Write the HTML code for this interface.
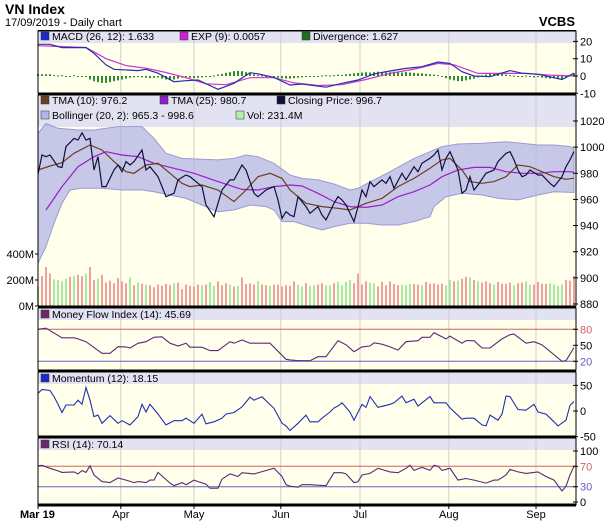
<!DOCTYPE html>
<html><head><meta charset="utf-8"><style>
html,body{margin:0;padding:0;background:#fff;}
svg{display:block;font-family:"Liberation Sans",sans-serif;}
</style></head><body>
<svg id="chart" width="609" height="528" viewBox="0 0 609 528" xmlns="http://www.w3.org/2000/svg">
<text x="5" y="14" font-size="14" font-weight="bold" fill="#000">VN Index</text>
<text x="5" y="26" font-size="11" fill="#000">17/09/2019 - Daily chart</text>
<text x="575" y="26" font-size="13" font-weight="bold" text-anchor="end" fill="#000">VCBS</text>
<g id="layer"></g>
</svg>
<script>
// ---- data ----
const monthLabels=["Mar 19","Apr","May","Jun","Jul","Aug","Sep"];
const monthDays=[0,20.7,39,60.7,80.5,102.7,124.5];
const closeDays=[0,1,2,3,5,6,7,9,10,11,12,13,14,15,16,17,19,20,21,22,23,24,26,27,28,30,31,32,34,35,37,38,40,41,42,44,45,46,48,49,51,52,54,55,57,59,60,61,62,63,64,65,67,68,70,71,72,73,74,75,76,77,79,80,81,82,83,84,86,87,88,89,91,92,94,95,96,98,99,100,101,102,103,105,106,107,108,109,110,112,113,114,115,117,118,119,120,121,122,123,125,126,128,129,131,132,133,134];
const closeVals=[979.4,994,992.7,994,985,984.5,1000.4,1006.7,1005.5,1011,1005.5,1006.7,982.5,992.7,969.8,969.8,982.5,986.3,981.2,988.9,986.3,988.9,997.8,982.5,985,977.4,969.8,962.1,964.7,974.9,978.7,977.4,972.3,969.8,955.7,946.8,957,967.2,974.9,974.9,986.3,982.5,964.7,962.1,967.2,969.8,959.6,945.5,950.6,948.1,946.8,962.1,954.5,949.4,954.5,948.1,944.3,950.6,957,962.1,959.6,955.7,943,954.5,967.2,962.1,973.6,969.8,974.9,972.3,977.4,968.5,980,974.9,985,981.2,987.6,991.5,994,997.8,982.5,991.5,996.5,982.5,964.7,967.2,977.4,967.2,971,980,981.2,982.5,988.9,995.3,996.5,990.2,982.5,977.4,978.7,982.5,978.7,978.7,972.3,969.8,977.4,985,990.2,996.7];
const tma10Days=[0,3,6,9,13,16,19,22,24,27,30,33,36,38,41,45,49,52,55,58,61,63,67,71,75,78,82,86,90,94,98,101,103,106,108,111,114,117,120,123,126,129,132,134];
const tma10Vals=[982.5,985.6,988.1,995.3,1001.6,997.8,988.9,981.2,980,986.3,987.6,980,972.3,969.8,971,967.2,958.3,967.2,977.4,980,976.1,967.2,957,954.5,953.2,951.9,957,960.8,969.8,976.1,983.8,990.2,991.4,982.5,973.6,972.3,973.6,977.4,986.3,985,981.2,977.4,975.4,976.2];
const tma25Days=[2,6,10,14,17,21,25,29,34,39,45,51,55,59,63,66,70,74,78,82,86,90,94,98,101,105,109,113,117,121,125,129,133,134];
const tma25Vals=[951.9,969.8,985,992.7,996.5,994,992.7,987.6,983.8,980,973.6,967.7,967.2,969.8,971,970.3,964.7,958.3,954.5,953.9,955.7,962.1,965.9,971,977.4,982.5,984.5,984.5,981.2,980,980,981.2,981.2,980.7];
const upperDays=[0,2,5,10,14,17,20,26,29,32,36,41,45,49,52,55,59,63,66,70,74,78,80,84,88,94,98,101,105,111,117,121,125,129,133,134];
const upperVals=[1010.6,1018.2,1014.4,1013.1,1013.1,1014.4,1015.7,1015.7,1006.7,995.3,991.4,990.7,990.2,991.4,994,992.7,987.6,978.7,976.1,974.9,971.8,967.2,968.5,974.9,981.2,991.4,996.5,1000.4,1002.4,1002.9,1004.2,1002.9,1001.6,1001.6,1000.5,998.6];
const lowerDays=[0,2,4,6,8,11,16,21,26,29,33,37,41,45,49,53,57,59,61,64,68,71,74,78,82,86,90,94,98,99,102,106,111,115,120,125,129,134];
const lowerVals=[911.1,923.9,941.7,957,967.2,968.5,968.5,967.2,967.2,965.9,963.4,960.8,955.7,950.6,951.9,955.7,954.5,951.9,943,943,939.2,936.6,939.2,941.7,941.7,940.4,940.4,943,946.8,954.5,962.1,964.7,963.4,960.8,959.6,963.4,965.9,965.3];
const volumes=[150,230,300,250,205,200,190,210,225,230,240,230,250,300,200,210,240,180,195,175,215,190,175,220,160,180,170,165,160,145,165,155,170,160,175,180,130,165,155,150,165,160,165,185,155,190,160,175,165,150,155,220,170,175,165,190,165,160,155,165,165,150,160,155,190,165,150,175,155,160,165,175,160,160,175,185,160,185,200,175,250,165,190,180,175,150,185,160,190,170,160,165,160,170,170,165,160,185,170,175,165,170,160,200,190,195,210,225,220,200,190,180,190,175,165,185,170,170,180,160,175,180,190,165,165,185,170,170,175,165,155,165,200,195,230];
const volDir="uddduuuududduddudddddddudududdddddudddddduduudddududddduddudddddduuduudduuduuuudddduudddddduuudduddddduududdududdduddddudduudddduuuu";
const macdDays=[0,3,6,12,14,17,19,25,27,30,34,37,40,45,49,53,55,59,63,66,72,76,80,84,88,92,96,100,103,106,109,113,118,121,125,131,134];
const macdVals=[18.3,18.3,16.4,16.4,13.1,6.4,3.9,3.1,3.9,1.6,-3.3,-2.7,-2.3,-7.7,-4.2,1.9,1.2,-0.8,-5.2,-4.6,-6.5,-4.2,-2.3,1.2,2.9,4.4,5.4,8.1,7.3,2.5,0,-0.4,3.1,1.6,1.0,-2.0,1.6];
const expDays=[0,6,12,17,22,27,32,37,42,47,53,59,64,70,76,82,88,94,100,104,110,116,122,128,134];
const expVals=[17.5,17,16.5,10,6,4.5,2,-1,-4.5,-5,-1,-1,-4,-5.5,-5,-2,1.5,4,7.3,6.5,1.5,1.5,1.5,0.5,0];
const divergence=[1,1,1,1,0.5,0.3,0.5,0,0,0.5,0,0,0,-2,-3,-3.5,-4,-4,-3.5,-3,-2.5,-2,-1.5,-1,-0.8,-0.6,-0.8,-1,-1.2,-1,-0.8,-1.5,-2,-2.2,-2,-1.5,-1,-0.5,-1,-1.2,-1,-0.8,-0.5,-0.5,0.3,0.8,1.2,1.8,2.2,2.8,3,2.8,2.2,1.5,1,0.5,0.3,0,-0.3,-0.8,-1,-1.3,-1.5,-1.5,-1.2,-1,-0.8,-0.5,-0.5,-0.3,-0.5,0.3,0.5,0.3,0.5,0.8,0.6,1,1.2,1.5,1.8,2,2.2,2,2.2,2.5,2.3,2,2.2,2.5,2.2,2,2.3,2,1.8,1.5,1.5,1.2,1,0.8,0.5,-0.5,-1.2,-2,-2.5,-3,-3,-2.5,-2,-1.5,-0.8,0.3,0.8,1.2,1.5,1.5,1.2,0.8,0.5,0.2,-0.3,-0.5,0.3,-0.5,-0.8,-0.5,-1,-1.2,-1.5,-1.3,-1.5,-1.8,-1.2,0.5,1.6];
const mfiDays=[0,2,6,9,10,12,16,18,20,22,23,25,27,29,31,33,35,37,38,41,43,45,48,49,51,53,58,62,63,65,68,70,72,75,77,79,81,83,84,86,88,90,92,95,96,98,99,102,103,106,107,109,111,113,116,118,119,122,124,126,131,132,134];
const mfiVals=[80,82,64,64,62,56.8,35,35,47.4,47,45,53.7,56.8,65,66,54,48.7,54,46.5,46.5,40,40,56.8,54,60,54,54,23.7,22.5,21,21,28.6,28.6,58.6,51,38,47,48.7,54.6,52,47,41,56.8,58.6,65,65,73.6,62,67,54,58.6,58.6,45,45,62,69.8,71,54,56.8,51,20,21,45.69];
const momDays=[0,1,3,4,5,6,7,9,10,11,12,13,14,15,16,18,20,21,23,25,26,27,28,30,32,34,36,37,39,41,42,44,46,47,49,51,53,54,56,59,61,62,63,65,67,68,70,71,73,74,75,76,78,79,81,82,83,85,88,89,91,92,94,95,98,99,102,103,106,107,109,111,112,113,115,116,117,118,120,122,124,125,127,129,130,132,133,134];
const momVals=[34.5,42,40,28,13,-3,11.7,11.7,21,13,46,21,-11,-8,-24,-9,-24,-19,-27,-11,13,-2,13,-6,-27,-19,-19,-14,-24,-6,-25,-21,-14,-6,-3,8,27,21,27.7,5,-24,-29,-38,-24,-8,-21,-21,-14,-2,6,9.7,16,-2,-18,13,7,28,7,13,16,29,16,23,9.7,28,16,16,6,-16,-14,-14,-27,-29,-8,-18,-6,29,28,3,1.5,13,-2,-6,-21,-29,-18,11,18.15];
const rsiDays=[0,1,3,5,6,9,10,11,12,13,14,16,18,20,22,24,25,27,28,29,30,31,33,34,36,37,39,40,42,43,45,46,48,50,51,54,58,59,61,62,63,65,66,68,70,72,74,76,77,79,80,81,83,85,88,90,92,93,94,96,98,99,100,101,103,105,107,109,112,114,115,117,118,120,122,125,127,129,131,132,133,134];
const rsiVals=[71,72,66,61,58,59,55,61.7,58,71,53,40,38,47,43,38,40,38,43,43,58,51,37,32,38,34,43,40,35,27,27,45,55,50,57.5,55,64,66,50,34,31,29,34,34,33,32,57.5,57.5,55,38,40,53,56,66,59,57.5,66,72,62,68,62,72,70,62,66,43,46,43,37,43,43,53,64,59,56,59,50,43,21.5,31,53,70.14];

// ---- layout ----
const X0=38,X1=576,NDAYS=134.5;
function xOf(d){return X0+d*(X1-X0)/NDAYS;}
const macdY=v=>76-v*1.73;
const priceY=p=>121+(1020-p)*1.307;
const volY=v=>306-v*0.13;
const mfiY=v=>329.3+(80-v)*0.533;
const momY=v=>411-v*0.513;
const rsiY=v=>502-v*0.51;
const NS="http://www.w3.org/2000/svg";
const layer=document.getElementById('layer');
function mk(tag,attrs,parent){const e=document.createElementNS(NS,tag);for(const k in attrs)e.setAttribute(k,attrs[k]);(parent||layer).appendChild(e);return e;}
function pts(days,vals,fy){return days.map((d,i)=>xOf(d).toFixed(1)+','+fy(vals[i]).toFixed(1)).join(' ');}

const panels=[[31,43,93],[95,127,306],[308,320,370],[372,384,436],[438,450,505]];
panels.forEach((p,i)=>{
  const bg=mk('rect',{x:X0,y:p[0],width:X1-X0,height:p[2]-p[0],fill:'#ffffec'});
  
  
  const lb=mk('rect',{x:X0,y:p[0],width:X1-X0,height:p[1]-p[0],fill:'#e2e2f2'});
  
  
});
monthDays.forEach((d,i)=>{
  if(i===0)return;
  const g=mk('line',{x1:xOf(d),x2:xOf(d),y1:31,y2:505,stroke:'#cfcfcf','stroke-width':1});
  
  
});
divergence.forEach((v,i)=>{
  const y=macdY(v),y0=macdY(0);
  const r=mk('rect',{x:xOf(i)-1,y:Math.min(y,y0),width:2,height:Math.max(1,Math.abs(y-y0)),fill:'#2e8b2e'});
  
  
});
let e;
e=mk('polyline',{points:pts(expDays,expVals,macdY),fill:'none',stroke:'#d030d0','stroke-width':1.2});


e=mk('polyline',{points:pts(macdDays,macdVals,macdY),fill:'none',stroke:'#2030b0','stroke-width':1.2});


volumes.forEach((v,i)=>{
  const r=mk('rect',{x:xOf(i)-1,y:volY(v),width:2,height:306-volY(v),fill:volDir[i]==='u'?'#a8e8a0':'#f0a0a0'});
  
  
});
const bandPts=pts(upperDays,upperVals,priceY)+' '+lowerDays.slice().reverse().map((d,i)=>xOf(d).toFixed(1)+','+priceY(lowerVals[lowerVals.length-1-i]).toFixed(1)).join(' ');
e=mk('polygon',{points:bandPts,fill:'#b4b4e6','fill-opacity':0.75,stroke:'#9a9ad8','stroke-width':1});


e=mk('polyline',{points:pts(tma25Days,tma25Vals,priceY),fill:'none',stroke:'#9a1ec8','stroke-width':1.2});


e=mk('polyline',{points:pts(tma10Days,tma10Vals,priceY),fill:'none',stroke:'#6b4020','stroke-width':1.2});


e=mk('polyline',{points:pts(closeDays,closeVals,priceY),fill:'none',stroke:'#101040','stroke-width':1.2});


[[mfiY(80),'#d06060'],[mfiY(20),'#6060c0'],[rsiY(70),'#d06060'],[rsiY(30),'#6060c0']].forEach(r=>{
  const l=mk('line',{x1:X0,x2:X1,y1:r[0],y2:r[0],stroke:r[1],'stroke-width':1});
  
  
});
e=mk('polyline',{points:pts(mfiDays,mfiVals,mfiY),fill:'none',stroke:'#5a2a7a','stroke-width':1.1});


e=mk('polyline',{points:pts(momDays,momVals,momY),fill:'none',stroke:'#2030b0','stroke-width':1.1});


e=mk('polyline',{points:pts(rsiDays,rsiVals,rsiY),fill:'none',stroke:'#5a2a7a','stroke-width':1.1});


panels.forEach(p=>{
  const b=mk('rect',{x:X0,y:p[0],width:X1-X0,height:p[2]-p[0],fill:'none',stroke:'#000','stroke-width':1});
  
  
});
[30.5,94,307,371,437,505].forEach(y=>{
  const l=mk('line',{x1:X0,x2:X1,y1:y,y2:y,stroke:'#000','stroke-width':y===30.5?1:3});
  
  
});
const axes=[[[20,10,0,-10],macdY],[[1020,1000,980,960,940,920,900,880],priceY],[[80,50,20],mfiY],[[50,0,-50],momY],[[100,70,30,0],rsiY]];
axes.forEach((a,ai)=>{
  a[0].forEach(v=>{
    const y=a[1](v);
    const t=mk('line',{x1:X1-3,x2:X1+2,y1:y,y2:y,stroke:'#000'});
    
    
    const col=(ai===2||ai===4)&&(v===80||v===70)?'#d06060':((ai===2||ai===4)&&(v===20||v===30)?'#6060c0':'#000');
    const tx=mk('text',{x:X1+4,y:y+4,'font-size':11,fill:col});
    tx.textContent=v;
    
    
  });
});
[[0,'0M'],[200,'200M'],[400,'400M']].forEach(v=>{
  const tx=mk('text',{x:34,y:volY(v[0])+4,'font-size':11,'text-anchor':'end',fill:'#000'});
  tx.textContent=v[1];
  
  
  const t=mk('line',{x1:35,x2:38,y1:volY(v[0]),y2:volY(v[0]),stroke:'#000'});
  
  
});
monthLabels.forEach((m,i)=>{
  const tx=mk('text',{x:i===0?20:xOf(monthDays[i]),y:518,'font-size':11,'text-anchor':i===0?'start':'middle','font-weight':i===0?'bold':'normal',fill:'#000'});
  tx.textContent=m;
  
  
  const t=mk('line',{x1:xOf(monthDays[i]),x2:xOf(monthDays[i]),y1:505,y2:509,stroke:'#000'});
  
  
});
const legends=[[41,40,'#1a2cc8','MACD (26, 12): 1.633'],[180,40,'#d020d0','EXP (9): 0.0057'],[302,40,'#207020','Divergence: 1.627'],
[41,104,'#6b4020','TMA (10): 976.2'],[160,104,'#8a20c8','TMA (25): 980.7'],[277,104,'#101040','Closing Price: 996.7'],
[41,119,'#b4b4e6','Bollinger (20, 2): 965.3 - 998.6'],[236,119,'#b0f0a8','Vol: 231.4M'],
[41,318,'#6a2a6a','Money Flow Index (14): 45.69'],[41,382,'#1a2cc8','Momentum (12): 18.15'],[41,448,'#6a2a6a','RSI (14): 70.14']];
legends.forEach(l=>{
  const s=mk('rect',{x:l[0],y:l[1]-8,width:8,height:8,fill:l[2],stroke:'#333','stroke-width':0.5});
  
  
  const t=mk('text',{x:l[0]+11,y:l[1],'font-size':10.5,fill:'#000'});
  t.textContent=l[3];
  
  
});
</script>
</body></html>
